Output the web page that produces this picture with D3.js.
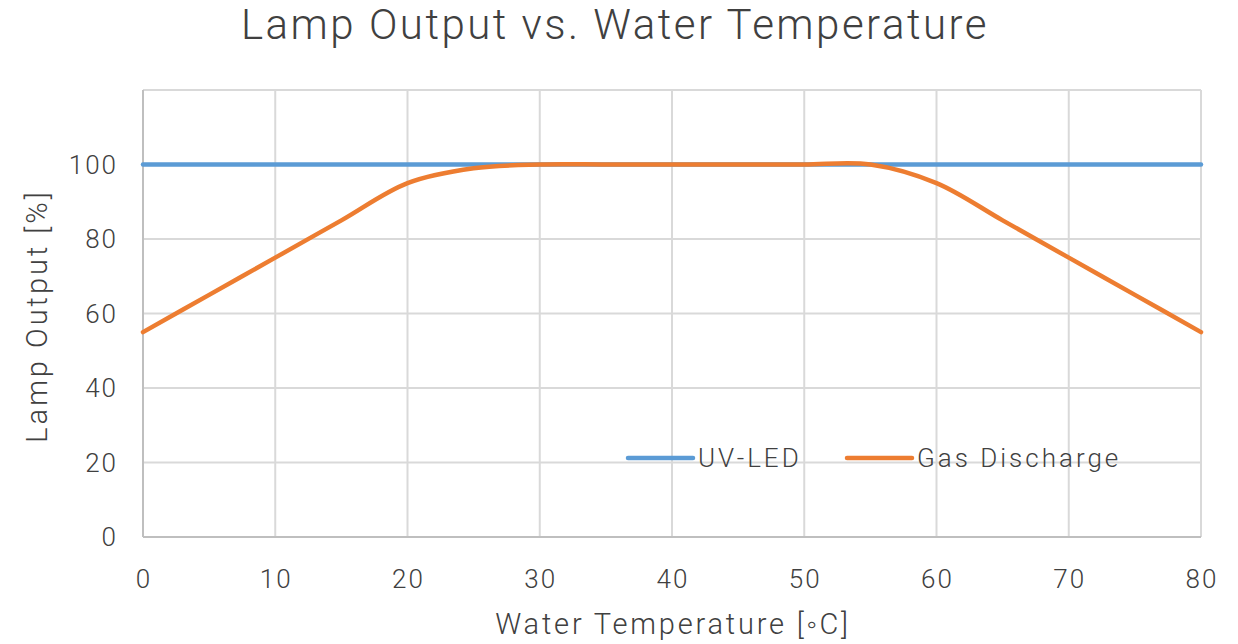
<!DOCTYPE html>
<html><head><meta charset="utf-8">
<script src="https://cdn.jsdelivr.net/npm/d3@7"></script>
<style>
html,body{margin:0;padding:0;background:#fff;}
text{font-family:"Helvetica Neue",Roboto,"Open Sans",sans-serif;font-weight:300;}
</style></head>
<body><svg id="c" width="1238" height="644"></svg>
<script>
const temps = [0,5,10,15,20,25,30,35,40,45,50,55,60,65,70,75,80];
const uvLed = [100,100,100,100,100,100,100,100,100,100,100,100,100,100,100,100,100];
const gasDischarge = [55,65,75,85,95,99,100,100,100,100,100,100,95,85,75,65,55];
const xTicks = [0,10,20,30,40,50,60,70,80];
const yTicks = [0,20,40,60,80,100,120];
const yTickLabels = ["0","20","40","60","80","100",""];
const seriesNames = ["UV-LED","Gas Discharge"];
const seriesColors = ["#5B9BD5","#ED7D31"];

const svg = d3.select("#c");
const x = d3.scaleLinear().domain([0,80]).range([143,1201]);
const y = d3.scaleLinear().domain([0,120]).range([537,90]);

// gridlines
svg.append("g").selectAll("line").data(xTicks.slice(1)).join("line")
  .attr("x1",d=>x(d)).attr("x2",d=>x(d)).attr("y1",y(0)).attr("y2",y(120))
  .attr("stroke","#d9d9d9").attr("stroke-width",2);
svg.append("g").selectAll("line").data(yTicks.slice(1)).join("line")
  .attr("x1",x(0)).attr("x2",x(80)).attr("y1",d=>y(d)).attr("y2",d=>y(d))
  .attr("stroke","#d9d9d9").attr("stroke-width",2);
// axes lines
svg.append("line").attr("x1",x(0)).attr("x2",x(0)).attr("y1",y(0)).attr("y2",y(120)).attr("stroke","#bfbfbf").attr("stroke-width",2);
svg.append("line").attr("x1",x(0)).attr("x2",x(80)).attr("y1",y(0)).attr("y2",y(0)).attr("stroke","#bfbfbf").attr("stroke-width",2);

// tick labels
svg.append("g").selectAll("text").data(xTicks).join("text")
  .attr("x",d=>x(d)+1).attr("y",588).attr("text-anchor","middle")
  .attr("font-size",26).attr("letter-spacing",2).attr("fill","#404040").text(d=>d);
svg.append("g").selectAll("text").data(yTicks).join("text")
  .attr("x",118).attr("y",d=>y(d)+9).attr("text-anchor","end")
  .attr("font-size",26).attr("letter-spacing",2).attr("fill","#404040").text((d,i)=>yTickLabels[i]);

// axis titles
svg.append("text").attr("x",673).attr("y",634).attr("text-anchor","middle")
  .attr("font-size",29).attr("letter-spacing",2.8).attr("fill","#404040").text("Water Temperature [◦C]");
svg.append("text").attr("transform","translate(47,316) rotate(-90)").attr("text-anchor","middle")
  .attr("font-size",29).attr("letter-spacing",3).attr("fill","#404040").text("Lamp Output [%]");

// title
svg.append("text").attr("x",615).attr("y",39).attr("text-anchor","middle")
  .attr("font-size",42).attr("letter-spacing",2.5).attr("fill","#404040").text("Lamp Output vs. Water Temperature");

// lines
const line = d3.line().x((d,i)=>x(temps[i])).y(d=>y(d)).curve(d3.curveCatmullRom.alpha(0.5));
[uvLed,gasDischarge].forEach((s,k)=>{
  svg.append("path").attr("d",line(s)).attr("fill","none")
    .attr("stroke",seriesColors[k]).attr("stroke-width",4.5).attr("stroke-linecap","round");
});

// legend
const legX = [628,847];
seriesNames.forEach((n,k)=>{
  svg.append("line").attr("x1",legX[k]).attr("x2",legX[k]+65).attr("y1",458).attr("y2",458)
    .attr("stroke",seriesColors[k]).attr("stroke-width",4.5).attr("stroke-linecap","round");
  svg.append("text").attr("x",legX[k]+70).attr("y",467).attr("font-size",26).attr("letter-spacing",3).attr("fill","#404040").text(n);
});
</script></body></html>
